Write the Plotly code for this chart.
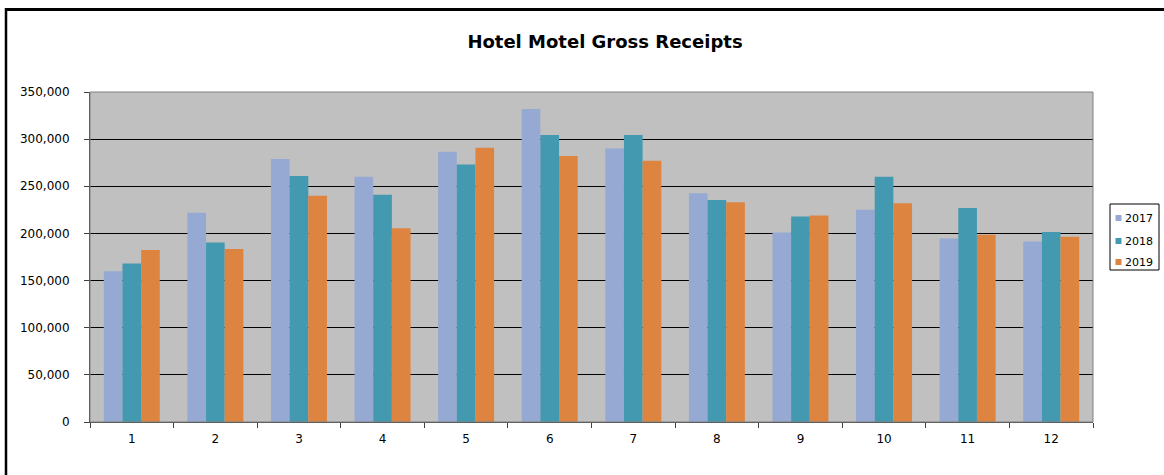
import plotly.graph_objects as go

months = ["1", "2", "3", "4", "5", "6", "7", "8", "9", "10", "11", "12"]
y2017 = [160000, 222000, 279000, 260000, 286500, 332000, 290000, 242500, 201000, 225000, 194500, 191500]
y2018 = [168000, 190500, 261000, 241000, 273000, 304500, 304500, 235500, 218000, 260000, 227000, 201500]
y2019 = [182500, 183500, 240000, 205500, 291000, 282000, 277000, 233000, 219000, 232000, 198500, 196500]

series = [("2017", y2017, "#95A9D2"), ("2018", y2018, "#4399B0"), ("2019", y2019, "#DD8440")]

fig = go.Figure()
for name, vals, col in series:
    fig.add_trace(go.Bar(x=months, y=vals, name=name, showlegend=False,
                         marker=dict(color=col, line=dict(width=0))))

W, H = 1164, 475
ml, mr, mt, mb = 90, 71, 92, 53
pw, ph = W - ml - mr, H - mt - mb

def px_x(x):
    return (x - ml) / pw

def px_y(y):
    return (H - mb - y) / ph

fig.update_layout(
    width=W, height=H,
    margin=dict(l=ml, r=mr, t=mt, b=mb, autoexpand=False),
    paper_bgcolor="white",
    plot_bgcolor="#C0C0C0",
    barmode="group",
    bargap=0.33,
    bargroupgap=0,
    font=dict(family="DejaVu Sans", size=12, color="black"),
    title=dict(text="<b>Hotel Motel Gross Receipts</b>", x=605 / W, xanchor="center",
               y=1 - 42 / H, yanchor="middle",
               font=dict(family="DejaVu Sans", size=18, color="black")),
    showlegend=False,
)
fig.update_xaxes(type="category", tickson="boundaries", ticks="outside", ticklen=5,
                 tickcolor="#404040", showline=True, linecolor="#404040", linewidth=1,
                 showgrid=False, ticklabelstandoff=6)
fig.update_yaxes(range=[0, 350000], dtick=50000, tickformat=",d", ticks="outside",
                 ticklen=5, tickcolor="#404040", showline=True, linecolor="#404040",
                 linewidth=1, showgrid=True, gridcolor="black", gridwidth=1,
                 zeroline=False, ticklabelstandoff=12)

shapes = [
    dict(type="rect", xref="paper", yref="paper", x0=0, x1=1, y0=0, y1=1,
         line=dict(color="#808080", width=1), layer="above"),
    dict(type="line", xref="paper", yref="paper", x0=px_x(5), x1=px_x(1170),
         y0=px_y(9.5), y1=px_y(9.5), line=dict(color="black", width=3)),
    dict(type="line", xref="paper", yref="paper", x0=px_x(6), x1=px_x(6),
         y0=px_y(8), y1=px_y(480), line=dict(color="black", width=2.5)),
    # legend box
    dict(type="rect", xref="paper", yref="paper", x0=px_x(1110), x1=px_x(1159),
         y0=px_y(270), y1=px_y(204), line=dict(color="black", width=1),
         fillcolor="white"),
]
annotations = []
leg_y = [218, 241, 262]
for (name, vals, col), ly in zip(series, leg_y):
    shapes.append(dict(type="rect", xref="paper", yref="paper",
                       x0=px_x(1115.5), x1=px_x(1121.5), y0=px_y(ly + 3), y1=px_y(ly - 3),
                       line=dict(width=0), fillcolor=col))
    annotations.append(dict(text=name, xref="paper", yref="paper", x=px_x(1123),
                            y=px_y(ly), xanchor="left", yanchor="middle", showarrow=False,
                            font=dict(family="DejaVu Sans", size=11, color="black")))
fig.update_layout(shapes=shapes, annotations=annotations)

fig.write_html("out.html")
